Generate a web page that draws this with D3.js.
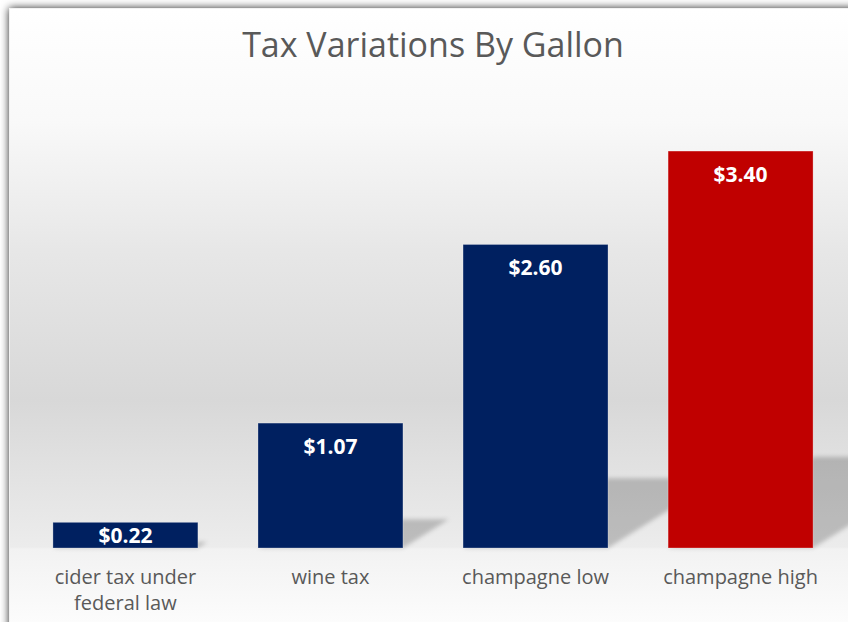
<!DOCTYPE html>
<html>
<head>
    <meta charset="utf-8" />
    <title>Tax Variations By Gallon</title>
    <style>
        body { margin: 0; background: #fff; }
        svg { display: block; }
        text.title {
            font-family: "Open Sans", sans-serif;
            font-weight: normal;
            font-size: 34px;
            fill: #595959;
        }
        text.cat {
            font-family: "Open Sans", sans-serif;
            font-size: 20px;
            fill: #595959;
        }
        text.val {
            font-family: "Open Sans", sans-serif;
            font-weight: bold;
            font-size: 21px;
            fill: #fff;
        }
    </style>
    <script src="https://d3js.org/d3.v7.min.js"></script>
</head>
<body>
<script>

// data
let categories = ["cider tax under federal law", "wine tax", "champagne low", "champagne high"];
let catLines = [["cider tax under", "federal law"], ["wine tax"], ["champagne low"], ["champagne high"]];
let values = [0.22, 1.07, 2.60, 3.40];
let barColors = ["#002060", "#002060", "#002060", "#C00000"];

let W = 848, H = 622;
let base = 548, top_ = 81;

let svg = d3.select("body").append("svg")
    .attr("width", W)
    .attr("height", H);

let defs = svg.append("defs");

// chart area background gradient (with a lighter "floor" below the bars)
let grad = defs.append("linearGradient")
    .attr("id", "bg")
    .attr("gradientUnits", "userSpaceOnUse")
    .attr("x1", 0).attr("x2", 0)
    .attr("y1", 8).attr("y2", 640);
let y0 = 8, y1 = 640;
[[8, "#ffffff"], [120, "#f9f9f9"], [250, "#e7e7e7"], [400, "#d8d8d8"],
 [547, "#ececec"], [549, "#f2f2f2"], [622, "#fcfcfc"], [640, "#ffffff"]]
    .forEach(s => {
        grad.append("stop")
            .attr("offset", (s[0] - y0) / (y1 - y0))
            .attr("stop-color", s[1]);
    });

let frameShadow = defs.append("filter")
    .attr("id", "frameShadow")
    .attr("x", "-5%").attr("y", "-5%")
    .attr("width", "110%").attr("height", "110%");
frameShadow.append("feDropShadow")
    .attr("dx", 0).attr("dy", 0)
    .attr("stdDeviation", 4)
    .attr("flood-color", "#000")
    .attr("flood-opacity", 0.85);

let blur = defs.append("filter")
    .attr("id", "blur")
    .attr("x", "-20%").attr("y", "-20%")
    .attr("width", "140%").attr("height", "140%");
blur.append("feGaussianBlur").attr("stdDeviation", 2);

// frame
svg.append("rect")
    .attr("x", 9).attr("y", 8)
    .attr("width", 880).attr("height", 660)
    .attr("fill", "url(#bg)")
    .attr("filter", "url(#frameShadow)");
svg.append("path")
    .attr("d", "M9.5,700V8.5H900")
    .attr("fill", "none")
    .attr("stroke", "#f2f2f2")
    .attr("stroke-width", 1);

// title
svg.append("text")
    .attr("class", "title")
    .attr("x", 433)
    .attr("y", 57)
    .attr("text-anchor", "middle")
    .text("Tax Variations By Gallon");

// scales
let xScale = d3.scaleBand()
    .domain(categories)
    .range([23, 843])
    .paddingInner(0.293)
    .paddingOuter(0.146);

let yScale = d3.scaleLinear()
    .domain([0, 4])
    .range([base, top_]);

let data = categories.map((c, i) => ({ cat: c, lines: catLines[i], value: values[i], color: barColors[i] }));

// perspective shadows behind bars
svg.append("g")
    .attr("filter", "url(#blur)")
    .selectAll("path")
    .data(data)
    .enter()
    .append("path")
    .attr("d", d => {
        let x0 = xScale(d.cat), x1 = x0 + xScale.bandwidth();
        let h = base - yScale(d.value);
        let sh = h * 0.23, dx = sh * 1.6;
        return "M" + x0 + "," + base + "L" + x1 + "," + base +
            "L" + (x1 + dx) + "," + (base - sh) +
            "L" + (x0 + dx) + "," + (base - sh) + "Z";
    })
    .attr("fill", "#000")
    .attr("fill-opacity", 0.2);

// bars
svg.selectAll("rect.bar")
    .data(data)
    .enter()
    .append("rect")
    .attr("class", "bar")
    .attr("x", d => xScale(d.cat))
    .attr("y", d => yScale(d.value))
    .attr("width", xScale.bandwidth())
    .attr("height", d => base - yScale(d.value))
    .attr("fill", d => d.color)
    .attr("stroke", "#ffffff")
    .attr("stroke-opacity", 0.35)
    .attr("stroke-width", 0.8);

// value labels
svg.selectAll("text.val")
    .data(data)
    .enter()
    .append("text")
    .attr("class", "val")
    .attr("text-anchor", "middle")
    .attr("x", d => xScale(d.cat) + xScale.bandwidth() / 2)
    .attr("y", d => {
        let t = yScale(d.value);
        return Math.min(t + 31, (t + base) / 2 + 8);
    })
    .text(d => "$" + d.value.toFixed(2));

// category labels
let cats = svg.selectAll("text.cat")
    .data(data)
    .enter()
    .append("text")
    .attr("class", "cat")
    .attr("text-anchor", "middle")
    .attr("x", d => xScale(d.cat) + xScale.bandwidth() / 2)
    .attr("y", 584);

cats.selectAll("tspan")
    .data(d => d.lines.map(l => ({ l: l, x: xScale(d.cat) + xScale.bandwidth() / 2 })))
    .enter()
    .append("tspan")
    .attr("x", d => d.x)
    .attr("dy", (d, i) => i === 0 ? 0 : 26)
    .text(d => d.l);

</script>
</body>
</html>
